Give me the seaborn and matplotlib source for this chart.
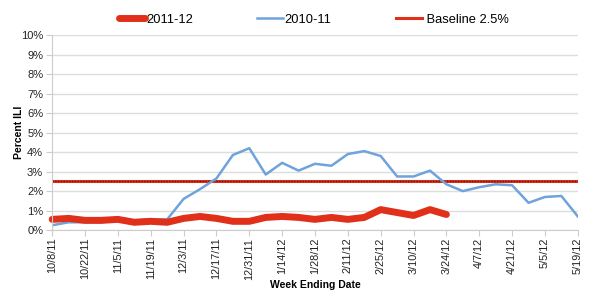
import pandas as pd
import matplotlib.pyplot as plt
import seaborn as sns
from matplotlib.lines import Line2D

# week ending dates (weekly, 10/8/11 .. 5/19/12); labels every other week
TICK_LABELS = ['10/8/11', '10/22/11', '11/5/11', '11/19/11', '12/3/11', '12/17/11',
               '12/31/11', '1/14/12', '1/28/12', '2/11/12', '2/25/12', '3/10/12',
               '3/24/12', '4/7/12', '4/21/12', '5/5/12', '5/19/12']

ILI_2011_12 = [0.55, 0.6, 0.5, 0.5, 0.55, 0.4, 0.45, 0.4, 0.6, 0.7, 0.6, 0.45, 0.45,
               0.65, 0.7, 0.65, 0.55, 0.65, 0.55, 0.65, 1.05, 0.9, 0.75, 1.05, 0.8]
ILI_2010_11 = [0.25, 0.4, 0.4, 0.4, 0.5, 0.5, 0.55, 0.55, 1.6, 2.1, 2.65, 3.85, 4.2,
               2.85, 3.45, 3.05, 3.4, 3.3, 3.9, 4.05, 3.8, 2.75, 2.75, 3.05, 2.35,
               2.0, 2.2, 2.35, 2.3, 1.4, 1.7, 1.75, 0.7]
BASELINE = 2.5

RED = '#E0301A'
BLUE = '#6FA3DC'
GRID = '#DDDDDD'

plt.rcParams['font.family'] = ['Liberation Sans', 'DejaVu Sans']

df = pd.concat([
    pd.DataFrame({'week': range(len(ILI_2011_12)), 'ili': ILI_2011_12, 'season': '2011-12'}),
    pd.DataFrame({'week': range(len(ILI_2010_11)), 'ili': ILI_2010_11, 'season': '2010-11'}),
])

fig, ax = plt.subplots(figsize=(6, 3), dpi=100)
fig.subplots_adjust(left=0.087, right=0.963, top=0.883, bottom=0.233)

sns.lineplot(data=df[df['season'] == '2010-11'], x='week', y='ili', color=BLUE,
             linewidth=1.8, ax=ax, legend=False)
sns.lineplot(data=df[df['season'] == '2011-12'], x='week', y='ili', color=RED,
             linewidth=5, solid_capstyle='round', solid_joinstyle='round', ax=ax,
             legend=False, clip_on=False)
ax.axhline(BASELINE, color=RED, linewidth=2.2, zorder=1.5)
ax.axhline(BASELINE, color='#5a1a10', linewidth=1.0, linestyle=(0, (1, 1)), zorder=1.6)

n_weeks = len(ILI_2010_11)
ax.set_xlim(0, n_weeks - 1)
ax.set_ylim(0, 10)
ax.set_yticks(range(0, 11))
ax.set_yticklabels([f'{v}%' for v in range(0, 11)], fontsize=8)
ax.set_xticks(range(0, n_weeks, 2))
ax.set_xticklabels(TICK_LABELS, rotation=90, fontsize=7.8)

ax.grid(axis='y', color=GRID, linewidth=1)
ax.set_axisbelow(True)
for side in ['top', 'right']:
    ax.spines[side].set_visible(False)
for side in ['left', 'bottom']:
    ax.spines[side].set_color('#CCCCCC')
ax.tick_params(axis='both', color='#CCCCCC', length=4, colors='#222222')
ax.tick_params(axis='x', pad=1.5)
ax.tick_params(axis='y', pad=2.5)

ax.set_xlabel('Week Ending Date', fontsize=7.5, fontweight='bold', labelpad=0)
ax.set_ylabel('Percent ILI', fontsize=7.5, fontweight='bold', labelpad=-2)

handles = [
    Line2D([], [], color=RED, linewidth=5, solid_capstyle='round'),
    Line2D([], [], color=BLUE, linewidth=1.8),
    Line2D([], [], color=RED, linewidth=2.2),
]
fig.legend(handles, ['2011-12', '2010-11', ' Baseline 2.5%'], loc='center',
           bbox_to_anchor=(0.523, 0.935), ncol=3, frameon=False, fontsize=9.3,
           columnspacing=5.0, handlelength=2.0, handletextpad=0.1)

fig.savefig('out.png', dpi=100, facecolor='white')
